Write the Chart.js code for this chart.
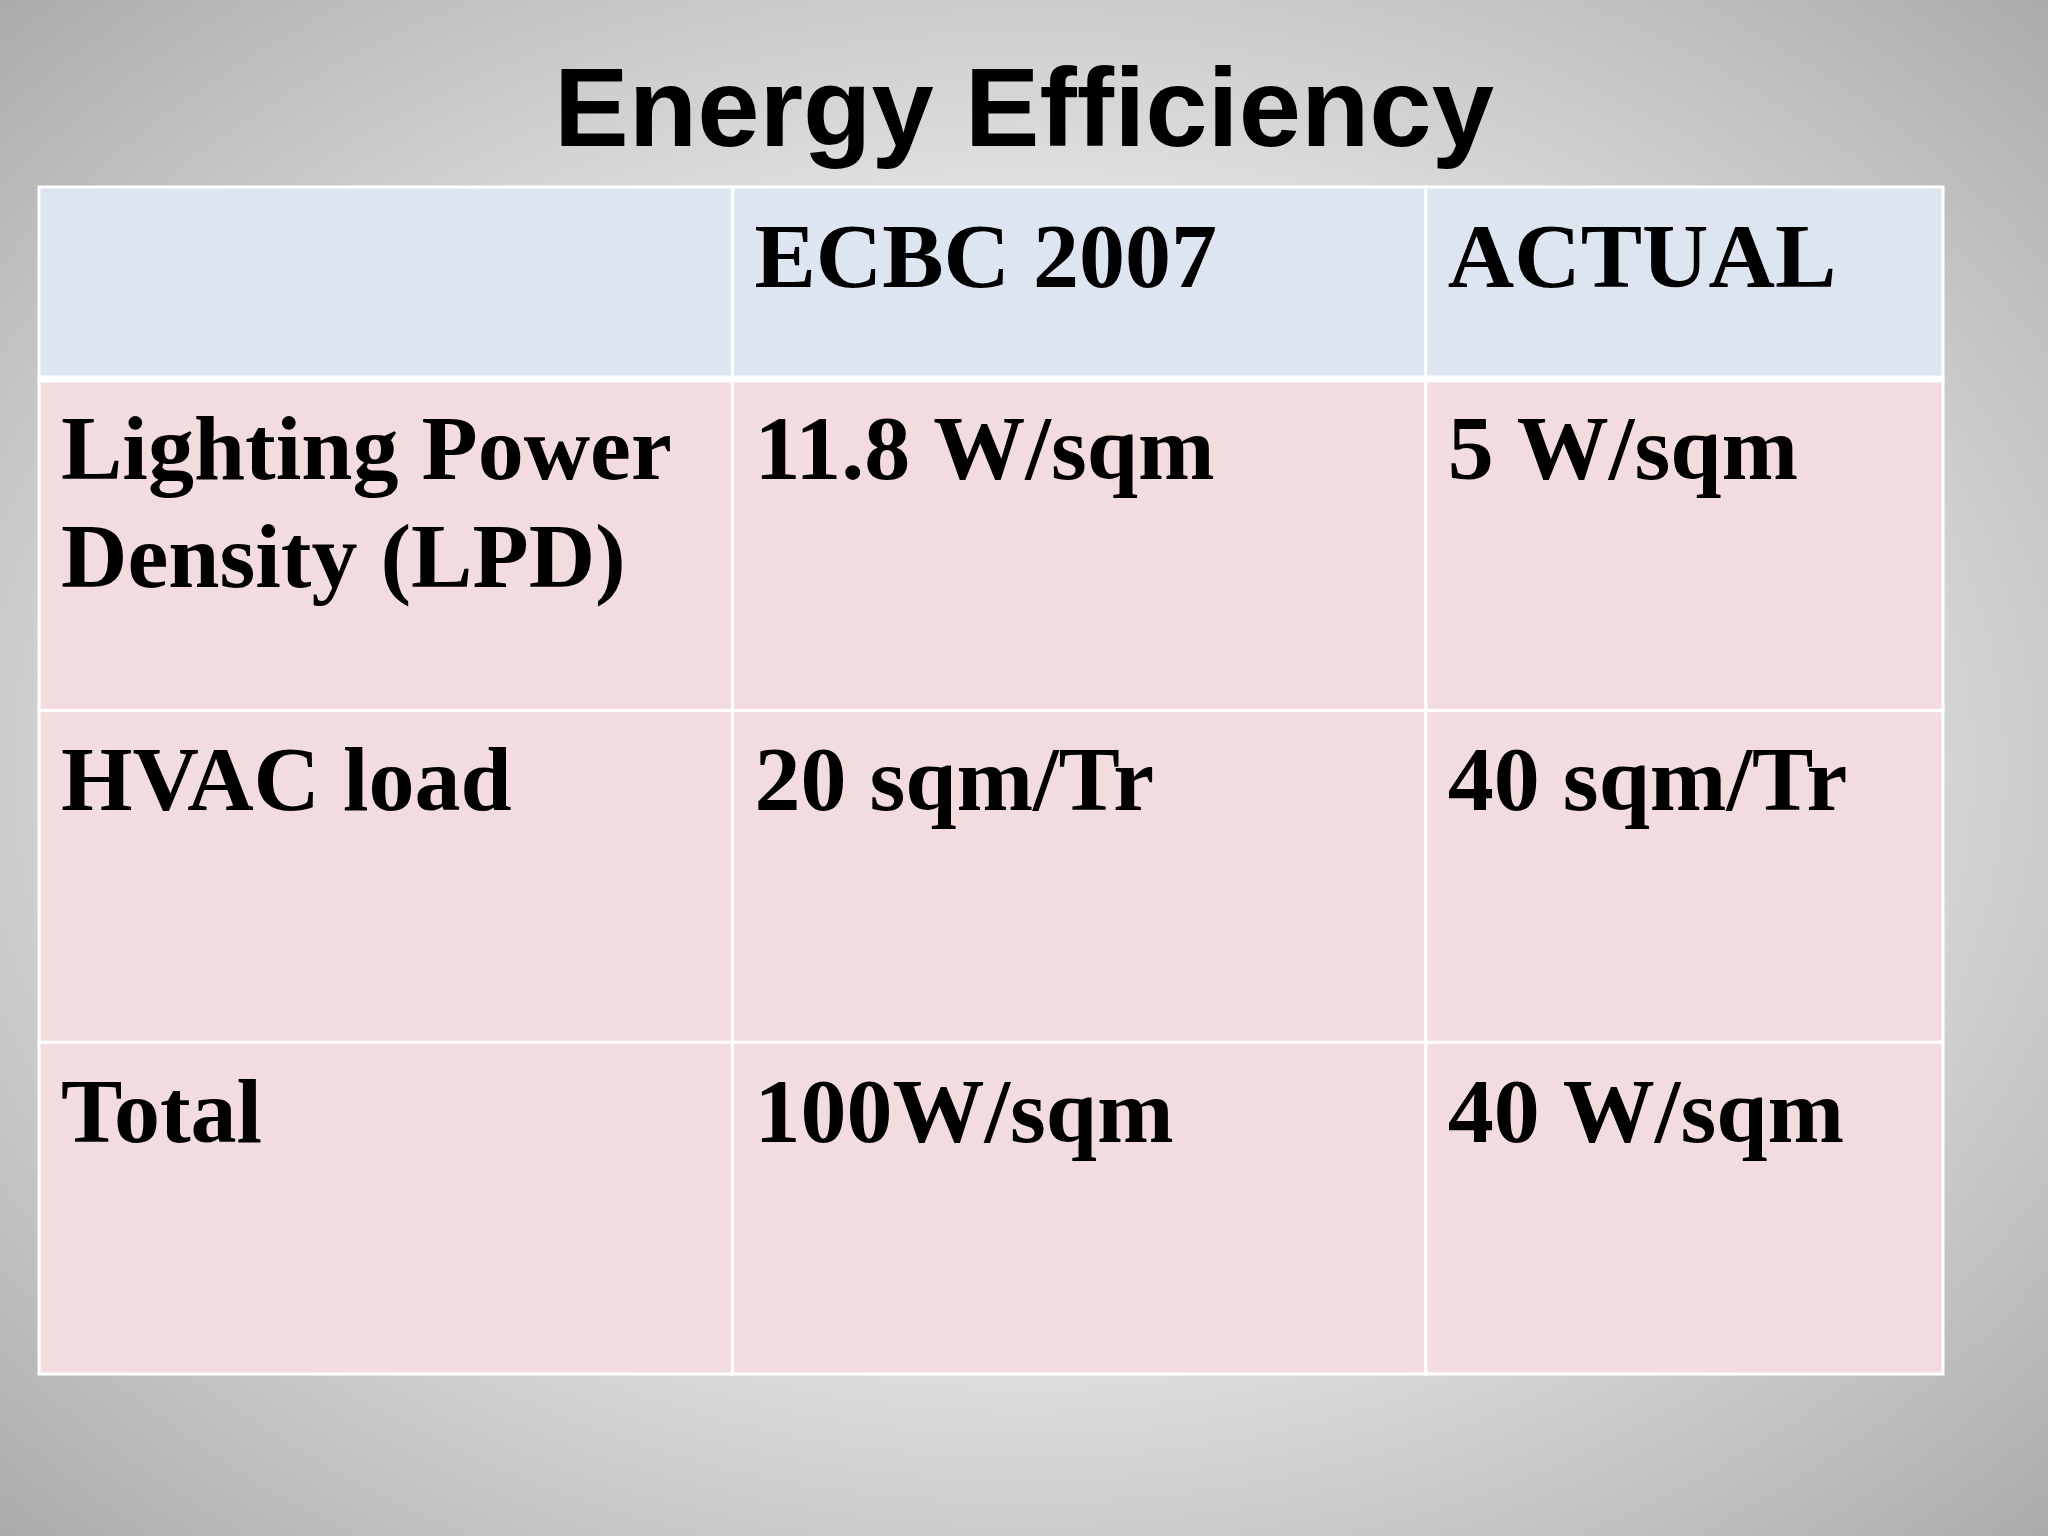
<!DOCTYPE html>
<html>
<head>
<meta charset="utf-8">
<script src="https://cdn.jsdelivr.net/npm/chart.js@4"></script>
<style>
  html, body { margin: 0; padding: 0; }
  body {
    width: 2048px; height: 1536px; overflow: hidden;
    background: radial-gradient(ellipse 75% 75% at 50% 50%, #ffffff 0%, #ececec 40%, #a4a4a4 100%);
    position: relative;
  }
  h1 {
    position: absolute; top: 48px; left: 0; width: 2048px; margin: 0;
    text-align: center; font-family: "Liberation Sans", Arial, sans-serif;
    font-weight: bold; font-size: 112px; color: #000; line-height: 120px;
  }
  #wrap { position: absolute; left: 0; top: 0; width: 2048px; height: 1536px; }
</style>
</head>
<body>
<h1>Energy Efficiency</h1>
<div id="wrap"><canvas id="tableChart"></canvas></div>
<script>
// Table contents
const columnHeaders = ['', 'ECBC 2007', 'ACTUAL'];
const rowLabels = ['Lighting Power\nDensity (LPD)', 'HVAC load', 'Total'];
const ecbcValues = ['11.8 W/sqm', '20 sqm/Tr', '100W/sqm'];
const actualValues = ['5 W/sqm', '40 sqm/Tr', '40 W/sqm'];

// Column / row boundaries in table units
const colEdges = [0, 531, 1062, 1458];
const rowEdges = [0, 147, 401, 655, 909];

function cellText(r, c) {
    if (r === 0) return columnHeaders[c];
    if (c === 0) return rowLabels[r - 1];
    if (c === 1) return ecbcValues[r - 1];
    return actualValues[r - 1];
}

const tablePlugin = {
    id: 'tableCells',
    beforeDatasetsDraw(chart) {
        const ctx = chart.ctx;
        const xs = chart.scales.x, ys = chart.scales.y;
        ctx.save();
        for (let r = 0; r < rowEdges.length - 1; r++) {
            for (let c = 0; c < colEdges.length - 1; c++) {
                const x0 = xs.getPixelForValue(colEdges[c]);
                const x1 = xs.getPixelForValue(colEdges[c + 1]);
                const y0 = ys.getPixelForValue(rowEdges[r]);
                const y1 = ys.getPixelForValue(rowEdges[r + 1]);
                ctx.fillStyle = r === 0 ? '#dde5f1' : '#f3dcdd';
                ctx.fillRect(x0, y0, x1 - x0, y1 - y0);
                ctx.strokeStyle = '#ffffff';
                ctx.lineWidth = 3;
                ctx.strokeRect(x0, y0, x1 - x0, y1 - y0);

                ctx.fillStyle = '#000';
                ctx.font = 'bold 92px "Liberation Serif", "Times New Roman", serif';
                ctx.textBaseline = 'top';
                ctx.textAlign = 'left';
                const lines = cellText(r, c).split('\n');
                lines.forEach((ln, i) => ctx.fillText(ln, x0 + 22, y0 + 30 + i * 108));
            }
        }
        // thicker separator under header
        const hy = ys.getPixelForValue(rowEdges[1]);
        ctx.strokeStyle = '#ffffff';
        ctx.lineWidth = 7;
        ctx.beginPath();
        ctx.moveTo(xs.getPixelForValue(colEdges[0]), hy);
        ctx.lineTo(xs.getPixelForValue(colEdges[3]), hy);
        ctx.stroke();
        ctx.restore();
    }
};

new Chart(document.getElementById('tableChart'), {
    type: 'scatter',
    data: {
        datasets: [{
            data: colEdges.slice(0, -1).map((c, i) => ({ x: (c + colEdges[i + 1]) / 2, y: rowEdges[1] / 2 })),
            pointRadius: 0
        }]
    },
    options: {
        responsive: true,
        maintainAspectRatio: false,
        animation: false,
        layout: { padding: { left: 39, right: 105, top: 187, bottom: 162 } },
        plugins: { legend: { display: false }, tooltip: { enabled: false } },
        scales: {
            x: { type: 'linear', min: colEdges[0], max: colEdges[3], display: false },
            y: { type: 'linear', min: rowEdges[0], max: rowEdges[4], reverse: true, display: false }
        }
    },
    plugins: [tablePlugin]
});
</script>
</body>
</html>
